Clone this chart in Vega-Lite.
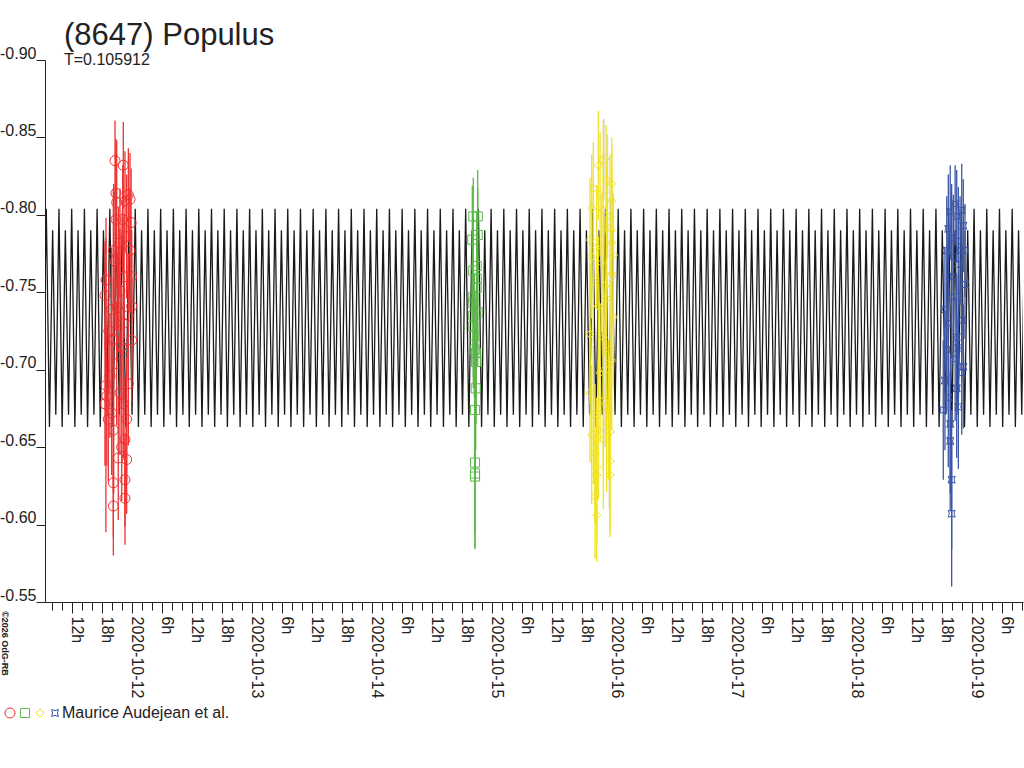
{
  "$schema": "https://vega.github.io/schema/vega-lite/v6.json",
  "width": 978,
  "height": 542,
  "autosize": "none",
  "padding": {"left": 45, "top": 60, "right": 1, "bottom": 166},
  "background": "white",
  "title": {
    "text": "(8647) Populus",
    "subtitle": "T=0.105912",
    "anchor": "start",
    "frame": "group",
    "dx": 19,
    "offset": -24,
    "font": "Liberation Sans",
    "fontSize": 31,
    "fontWeight": "normal",
    "color": "#222222",
    "subtitleFont": "Liberation Sans",
    "subtitleFontSize": 16,
    "subtitleColor": "#222222",
    "subtitlePadding": 0
  },
  "datasets": {
    "model": [
      {"t":-0.8178,"v":-0.804},{"t":-0.7913,"v":-0.663},{"t":-0.7648,"v":-0.790},{"t":-0.7384,"v":-0.671},
      {"t":-0.7119,"v":-0.804},{"t":-0.6854,"v":-0.663},{"t":-0.6589,"v":-0.790},{"t":-0.6325,"v":-0.671},
      {"t":-0.6060,"v":-0.804},{"t":-0.5795,"v":-0.663},{"t":-0.5530,"v":-0.790},{"t":-0.5265,"v":-0.671},
      {"t":-0.5001,"v":-0.804},{"t":-0.4736,"v":-0.663},{"t":-0.4471,"v":-0.790},{"t":-0.4206,"v":-0.671},
      {"t":-0.3941,"v":-0.804},{"t":-0.3677,"v":-0.663},{"t":-0.3412,"v":-0.790},{"t":-0.3147,"v":-0.671},
      {"t":-0.2882,"v":-0.804},{"t":-0.2618,"v":-0.663},{"t":-0.2353,"v":-0.790},{"t":-0.2088,"v":-0.671},
      {"t":-0.1823,"v":-0.804},{"t":-0.1558,"v":-0.663},{"t":-0.1294,"v":-0.790},{"t":-0.1029,"v":-0.671},
      {"t":-0.0764,"v":-0.804},{"t":-0.0499,"v":-0.663},{"t":-0.0235,"v":-0.790},{"t":0.0030,"v":-0.671},
      {"t":0.0295,"v":-0.804},{"t":0.0560,"v":-0.663},{"t":0.0825,"v":-0.790},{"t":0.1089,"v":-0.671},
      {"t":0.1354,"v":-0.804},{"t":0.1619,"v":-0.663},{"t":0.1884,"v":-0.790},{"t":0.2148,"v":-0.671},
      {"t":0.2413,"v":-0.804},{"t":0.2678,"v":-0.663},{"t":0.2943,"v":-0.790},{"t":0.3208,"v":-0.671},
      {"t":0.3472,"v":-0.804},{"t":0.3737,"v":-0.663},{"t":0.4002,"v":-0.790},{"t":0.4267,"v":-0.671},
      {"t":0.4531,"v":-0.804},{"t":0.4796,"v":-0.663},{"t":0.5061,"v":-0.790},{"t":0.5326,"v":-0.671},
      {"t":0.5591,"v":-0.804},{"t":0.5855,"v":-0.663},{"t":0.6120,"v":-0.790},{"t":0.6385,"v":-0.671},
      {"t":0.6650,"v":-0.804},{"t":0.6915,"v":-0.663},{"t":0.7179,"v":-0.790},{"t":0.7444,"v":-0.671},
      {"t":0.7709,"v":-0.804},{"t":0.7974,"v":-0.663},{"t":0.8238,"v":-0.790},{"t":0.8503,"v":-0.671},
      {"t":0.8768,"v":-0.804},{"t":0.9033,"v":-0.663},{"t":0.9297,"v":-0.790},{"t":0.9562,"v":-0.671},
      {"t":0.9827,"v":-0.804},{"t":1.0092,"v":-0.663},{"t":1.0357,"v":-0.790},{"t":1.0621,"v":-0.671},
      {"t":1.0886,"v":-0.804},{"t":1.1151,"v":-0.663},{"t":1.1416,"v":-0.790},{"t":1.1681,"v":-0.671},
      {"t":1.1945,"v":-0.804},{"t":1.2210,"v":-0.663},{"t":1.2475,"v":-0.790},{"t":1.2740,"v":-0.671},
      {"t":1.3004,"v":-0.804},{"t":1.3269,"v":-0.663},{"t":1.3534,"v":-0.790},{"t":1.3799,"v":-0.671},
      {"t":1.4064,"v":-0.804},{"t":1.4328,"v":-0.663},{"t":1.4593,"v":-0.790},{"t":1.4858,"v":-0.671},
      {"t":1.5123,"v":-0.804},{"t":1.5387,"v":-0.663},{"t":1.5652,"v":-0.790},{"t":1.5917,"v":-0.671},
      {"t":1.6182,"v":-0.804},{"t":1.6447,"v":-0.663},{"t":1.6711,"v":-0.790},{"t":1.6976,"v":-0.671},
      {"t":1.7241,"v":-0.804},{"t":1.7506,"v":-0.663},{"t":1.7770,"v":-0.790},{"t":1.8035,"v":-0.671},
      {"t":1.8300,"v":-0.804},{"t":1.8565,"v":-0.663},{"t":1.8830,"v":-0.790},{"t":1.9094,"v":-0.671},
      {"t":1.9359,"v":-0.804},{"t":1.9624,"v":-0.663},{"t":1.9889,"v":-0.790},{"t":2.0153,"v":-0.671},
      {"t":2.0418,"v":-0.804},{"t":2.0683,"v":-0.663},{"t":2.0948,"v":-0.790},{"t":2.1213,"v":-0.671},
      {"t":2.1477,"v":-0.804},{"t":2.1742,"v":-0.663},{"t":2.2007,"v":-0.790},{"t":2.2272,"v":-0.671},
      {"t":2.2537,"v":-0.804},{"t":2.2801,"v":-0.663},{"t":2.3066,"v":-0.790},{"t":2.3331,"v":-0.671},
      {"t":2.3596,"v":-0.804},{"t":2.3860,"v":-0.663},{"t":2.4125,"v":-0.790},{"t":2.4390,"v":-0.671},
      {"t":2.4655,"v":-0.804},{"t":2.4920,"v":-0.663},{"t":2.5184,"v":-0.790},{"t":2.5449,"v":-0.671},
      {"t":2.5714,"v":-0.804},{"t":2.5979,"v":-0.663},{"t":2.6243,"v":-0.790},{"t":2.6508,"v":-0.671},
      {"t":2.6773,"v":-0.804},{"t":2.7038,"v":-0.663},{"t":2.7303,"v":-0.790},{"t":2.7567,"v":-0.671},
      {"t":2.7832,"v":-0.804},{"t":2.8097,"v":-0.663},{"t":2.8362,"v":-0.790},{"t":2.8626,"v":-0.671},
      {"t":2.8891,"v":-0.804},{"t":2.9156,"v":-0.663},{"t":2.9421,"v":-0.790},{"t":2.9686,"v":-0.671},
      {"t":2.9950,"v":-0.804},{"t":3.0215,"v":-0.663},{"t":3.0480,"v":-0.790},{"t":3.0745,"v":-0.671},
      {"t":3.1009,"v":-0.804},{"t":3.1274,"v":-0.663},{"t":3.1539,"v":-0.790},{"t":3.1804,"v":-0.671},
      {"t":3.2069,"v":-0.804},{"t":3.2333,"v":-0.663},{"t":3.2598,"v":-0.790},{"t":3.2863,"v":-0.671},
      {"t":3.3128,"v":-0.804},{"t":3.3393,"v":-0.663},{"t":3.3657,"v":-0.790},{"t":3.3922,"v":-0.671},
      {"t":3.4187,"v":-0.804},{"t":3.4452,"v":-0.663},{"t":3.4716,"v":-0.790},{"t":3.4981,"v":-0.671},
      {"t":3.5246,"v":-0.804},{"t":3.5511,"v":-0.663},{"t":3.5776,"v":-0.790},{"t":3.6040,"v":-0.671},
      {"t":3.6305,"v":-0.804},{"t":3.6570,"v":-0.663},{"t":3.6835,"v":-0.790},{"t":3.7099,"v":-0.671},
      {"t":3.7364,"v":-0.804},{"t":3.7629,"v":-0.663},{"t":3.7894,"v":-0.790},{"t":3.8159,"v":-0.671},
      {"t":3.8423,"v":-0.804},{"t":3.8688,"v":-0.663},{"t":3.8953,"v":-0.790},{"t":3.9218,"v":-0.671},
      {"t":3.9482,"v":-0.804},{"t":3.9747,"v":-0.663},{"t":4.0012,"v":-0.790},{"t":4.0277,"v":-0.671},
      {"t":4.0542,"v":-0.804},{"t":4.0806,"v":-0.663},{"t":4.1071,"v":-0.790},{"t":4.1336,"v":-0.671},
      {"t":4.1601,"v":-0.804},{"t":4.1865,"v":-0.663},{"t":4.2130,"v":-0.790},{"t":4.2395,"v":-0.671},
      {"t":4.2660,"v":-0.804},{"t":4.2925,"v":-0.663},{"t":4.3189,"v":-0.790},{"t":4.3454,"v":-0.671},
      {"t":4.3719,"v":-0.804},{"t":4.3984,"v":-0.663},{"t":4.4248,"v":-0.790},{"t":4.4513,"v":-0.671},
      {"t":4.4778,"v":-0.804},{"t":4.5043,"v":-0.663},{"t":4.5308,"v":-0.790},{"t":4.5572,"v":-0.671},
      {"t":4.5837,"v":-0.804},{"t":4.6102,"v":-0.663},{"t":4.6367,"v":-0.790},{"t":4.6632,"v":-0.671},
      {"t":4.6896,"v":-0.804},{"t":4.7161,"v":-0.663},{"t":4.7426,"v":-0.790},{"t":4.7691,"v":-0.671},
      {"t":4.7955,"v":-0.804},{"t":4.8220,"v":-0.663},{"t":4.8485,"v":-0.790},{"t":4.8750,"v":-0.671},
      {"t":4.9015,"v":-0.804},{"t":4.9279,"v":-0.663},{"t":4.9544,"v":-0.790},{"t":4.9809,"v":-0.671},
      {"t":5.0074,"v":-0.804},{"t":5.0338,"v":-0.663},{"t":5.0603,"v":-0.790},{"t":5.0868,"v":-0.671},
      {"t":5.1133,"v":-0.804},{"t":5.1398,"v":-0.663},{"t":5.1662,"v":-0.790},{"t":5.1927,"v":-0.671},
      {"t":5.2192,"v":-0.804},{"t":5.2457,"v":-0.663},{"t":5.2721,"v":-0.790},{"t":5.2986,"v":-0.671},
      {"t":5.3251,"v":-0.804},{"t":5.3516,"v":-0.663},{"t":5.3781,"v":-0.790},{"t":5.4045,"v":-0.671},
      {"t":5.4310,"v":-0.804},{"t":5.4575,"v":-0.663},{"t":5.4840,"v":-0.790},{"t":5.5104,"v":-0.671},
      {"t":5.5369,"v":-0.804},{"t":5.5634,"v":-0.663},{"t":5.5899,"v":-0.790},{"t":5.6164,"v":-0.671},
      {"t":5.6428,"v":-0.804},{"t":5.6693,"v":-0.663},{"t":5.6958,"v":-0.790},{"t":5.7223,"v":-0.671},
      {"t":5.7487,"v":-0.804},{"t":5.7752,"v":-0.663},{"t":5.8017,"v":-0.790},{"t":5.8282,"v":-0.671},
      {"t":5.8547,"v":-0.804},{"t":5.8811,"v":-0.663},{"t":5.9076,"v":-0.790},{"t":5.9341,"v":-0.671},
      {"t":5.9606,"v":-0.804},{"t":5.9870,"v":-0.663},{"t":6.0135,"v":-0.790},{"t":6.0400,"v":-0.671},
      {"t":6.0665,"v":-0.804},{"t":6.0930,"v":-0.663},{"t":6.1194,"v":-0.790},{"t":6.1459,"v":-0.671},
      {"t":6.1724,"v":-0.804},{"t":6.1989,"v":-0.663},{"t":6.2254,"v":-0.790},{"t":6.2518,"v":-0.671},
      {"t":6.2783,"v":-0.804},{"t":6.3048,"v":-0.663},{"t":6.3313,"v":-0.790},{"t":6.3577,"v":-0.671},
      {"t":6.3842,"v":-0.804},{"t":6.4107,"v":-0.663},{"t":6.4372,"v":-0.790},{"t":6.4637,"v":-0.671},
      {"t":6.4901,"v":-0.804},{"t":6.5166,"v":-0.663},{"t":6.5431,"v":-0.790},{"t":6.5696,"v":-0.671},
      {"t":6.5960,"v":-0.804},{"t":6.6225,"v":-0.663},{"t":6.6490,"v":-0.790},{"t":6.6755,"v":-0.671},
      {"t":6.7020,"v":-0.804},{"t":6.7284,"v":-0.663},{"t":6.7549,"v":-0.790},{"t":6.7814,"v":-0.671},
      {"t":6.8079,"v":-0.804},{"t":6.8343,"v":-0.663},{"t":6.8608,"v":-0.790},{"t":6.8873,"v":-0.671},
      {"t":6.9138,"v":-0.804},{"t":6.9403,"v":-0.663},{"t":6.9667,"v":-0.790},{"t":6.9932,"v":-0.671},
      {"t":7.0197,"v":-0.804},{"t":7.0462,"v":-0.663},{"t":7.0726,"v":-0.790},{"t":7.0991,"v":-0.671},
      {"t":7.1256,"v":-0.804},{"t":7.1521,"v":-0.663},{"t":7.1786,"v":-0.790},{"t":7.2050,"v":-0.671},
      {"t":7.2315,"v":-0.804},{"t":7.2580,"v":-0.663},{"t":7.2845,"v":-0.790},{"t":7.3109,"v":-0.671},
      {"t":7.3374,"v":-0.804},{"t":7.3639,"v":-0.663},{"t":7.3904,"v":-0.790},{"t":7.4169,"v":-0.671},
      {"t":7.4433,"v":-0.804}
    ],
    "gray": [
      {"t":3.935,"v":-0.836,"e":0.026},
      {"t":3.965,"v":-0.812,"e":0.040},
      {"t":3.992,"v":-0.760,"e":0.050},
      {"t":3.945,"v":-0.700,"e":0.050},
      {"t":3.980,"v":-0.660,"e":0.050}
    ],
    "obs": [
      {"t":-0.139,"v":-0.835,"e":0.026,"s":"A"},{"t":-0.070,"v":-0.832,"e":0.028,"s":"A"},
      {"t":-0.131,"v":-0.814,"e":0.035,"s":"A"},{"t":-0.028,"v":-0.813,"e":0.030,"s":"A"},
      {"t":-0.125,"v":-0.808,"e":0.040,"s":"A"},{"t":-0.056,"v":-0.809,"e":0.032,"s":"A"},
      {"t":-0.014,"v":-0.810,"e":0.030,"s":"A"},{"t":-0.131,"v":-0.797,"e":0.045,"s":"A"},
      {"t":-0.075,"v":-0.797,"e":0.035,"s":"A"},{"t":-0.014,"v":-0.777,"e":0.040,"s":"A"},
      {"t":-0.139,"v":-0.770,"e":0.045,"s":"A"},{"t":-0.214,"v":-0.758,"e":0.040,"s":"A"},
      {"t":-0.223,"v":-0.748,"e":0.035,"s":"A"},{"t":0.000,"v":-0.760,"e":0.030,"s":"A"},
      {"t":-0.098,"v":-0.751,"e":0.040,"s":"A"},{"t":0.000,"v":-0.741,"e":0.035,"s":"A"},
      {"t":-0.167,"v":-0.739,"e":0.040,"s":"A"},{"t":-0.070,"v":-0.730,"e":0.045,"s":"A"},
      {"t":-0.153,"v":-0.719,"e":0.040,"s":"A"},{"t":0.000,"v":-0.719,"e":0.040,"s":"A"},
      {"t":-0.070,"v":-0.713,"e":0.035,"s":"A"},{"t":-0.181,"v":-0.696,"e":0.040,"s":"A"},
      {"t":-0.208,"v":-0.683,"e":0.045,"s":"A"},{"t":-0.223,"v":-0.678,"e":0.040,"s":"A"},
      {"t":-0.167,"v":-0.672,"e":0.040,"s":"A"},{"t":-0.070,"v":-0.678,"e":0.035,"s":"A"},
      {"t":-0.153,"v":-0.661,"e":0.040,"s":"A"},{"t":-0.056,"v":-0.655,"e":0.040,"s":"A"},
      {"t":-0.112,"v":-0.643,"e":0.040,"s":"A"},{"t":-0.042,"v":-0.642,"e":0.035,"s":"A"},
      {"t":-0.153,"v":-0.627,"e":0.035,"s":"A"},{"t":-0.056,"v":-0.629,"e":0.030,"s":"A"},
      {"t":-0.153,"v":-0.612,"e":0.032,"s":"A"},{"t":-0.056,"v":-0.617,"e":0.030,"s":"A"},
      {"t":-0.098,"v":-0.782,"e":0.035,"s":"A"},{"t":-0.042,"v":-0.786,"e":0.040,"s":"A"},
      {"t":-0.153,"v":-0.777,"e":0.040,"s":"A"},{"t":-0.028,"v":-0.735,"e":0.040,"s":"A"},
      {"t":-0.125,"v":-0.704,"e":0.040,"s":"A"},{"t":-0.028,"v":-0.691,"e":0.040,"s":"A"},
      {"t":-0.098,"v":-0.685,"e":0.040,"s":"A"},{"t":-0.195,"v":-0.668,"e":0.040,"s":"A"},
      {"t":-0.042,"v":-0.668,"e":0.040,"s":"A"},{"t":-0.083,"v":-0.650,"e":0.035,"s":"A"},
      {"t":-0.190,"v":-0.725,"e":0.040,"s":"A"},{"t":-0.110,"v":-0.765,"e":0.040,"s":"A"},
      {"t":-0.085,"v":-0.715,"e":0.040,"s":"A"},{"t":-0.005,"v":-0.795,"e":0.035,"s":"A"},
      {"t":-0.120,"v":-0.740,"e":0.035,"s":"A"},{"t":-0.063,"v":-0.760,"e":0.040,"s":"A"},
      {"t":-0.215,"v":-0.690,"e":0.095,"s":"A"},{"t":-0.150,"v":-0.720,"e":0.100,"s":"A"},
      {"t":2.8467,"v":-0.799,"e":0.025,"s":"B"},{"t":2.8833,"v":-0.799,"e":0.030,"s":"B"},
      {"t":2.8383,"v":-0.784,"e":0.035,"s":"B"},{"t":2.8833,"v":-0.787,"e":0.030,"s":"B"},
      {"t":2.8750,"v":-0.767,"e":0.035,"s":"B"},{"t":2.8467,"v":-0.764,"e":0.035,"s":"B"},
      {"t":2.8750,"v":-0.759,"e":0.035,"s":"B"},{"t":2.8750,"v":-0.753,"e":0.035,"s":"B"},
      {"t":2.8467,"v":-0.747,"e":0.035,"s":"B"},{"t":2.8467,"v":-0.743,"e":0.040,"s":"B"},
      {"t":2.8467,"v":-0.735,"e":0.040,"s":"B"},{"t":2.8833,"v":-0.737,"e":0.035,"s":"B"},
      {"t":2.8467,"v":-0.728,"e":0.040,"s":"B"},{"t":2.8550,"v":-0.722,"e":0.040,"s":"B"},
      {"t":2.8580,"v":-0.713,"e":0.040,"s":"B"},{"t":2.8690,"v":-0.711,"e":0.040,"s":"B"},
      {"t":2.8690,"v":-0.705,"e":0.040,"s":"B"},{"t":2.8667,"v":-0.688,"e":0.040,"s":"B"},
      {"t":2.8608,"v":-0.674,"e":0.045,"s":"B"},{"t":2.8608,"v":-0.640,"e":0.045,"s":"B"},
      {"t":2.8608,"v":-0.633,"e":0.048,"s":"B"},{"t":2.8608,"v":-0.631,"e":0.047,"s":"B"},
      {"t":3.930,"v":-0.835,"e":0.026,"s":"C"},{"t":3.888,"v":-0.832,"e":0.035,"s":"C"},
      {"t":3.953,"v":-0.823,"e":0.035,"s":"C"},{"t":4.000,"v":-0.820,"e":0.030,"s":"C"},
      {"t":3.847,"v":-0.817,"e":0.030,"s":"C"},{"t":3.903,"v":-0.813,"e":0.040,"s":"C"},
      {"t":4.000,"v":-0.809,"e":0.035,"s":"C"},{"t":3.833,"v":-0.804,"e":0.035,"s":"C"},
      {"t":3.930,"v":-0.803,"e":0.040,"s":"C"},{"t":3.986,"v":-0.799,"e":0.040,"s":"C"},
      {"t":3.958,"v":-0.792,"e":0.040,"s":"C"},{"t":4.000,"v":-0.790,"e":0.040,"s":"C"},
      {"t":3.819,"v":-0.784,"e":0.040,"s":"C"},{"t":3.875,"v":-0.779,"e":0.040,"s":"C"},
      {"t":4.000,"v":-0.782,"e":0.040,"s":"C"},{"t":4.014,"v":-0.774,"e":0.040,"s":"C"},
      {"t":3.833,"v":-0.773,"e":0.040,"s":"C"},{"t":3.917,"v":-0.769,"e":0.045,"s":"C"},
      {"t":4.000,"v":-0.762,"e":0.040,"s":"C"},{"t":3.847,"v":-0.757,"e":0.040,"s":"C"},
      {"t":3.944,"v":-0.754,"e":0.045,"s":"C"},{"t":3.958,"v":-0.746,"e":0.045,"s":"C"},
      {"t":3.888,"v":-0.741,"e":0.045,"s":"C"},{"t":4.014,"v":-0.734,"e":0.045,"s":"C"},
      {"t":3.819,"v":-0.723,"e":0.045,"s":"C"},{"t":3.930,"v":-0.721,"e":0.045,"s":"C"},
      {"t":3.986,"v":-0.713,"e":0.045,"s":"C"},{"t":4.000,"v":-0.706,"e":0.045,"s":"C"},
      {"t":3.903,"v":-0.698,"e":0.045,"s":"C"},{"t":3.819,"v":-0.685,"e":0.045,"s":"C"},
      {"t":3.930,"v":-0.680,"e":0.045,"s":"C"},{"t":3.972,"v":-0.674,"e":0.045,"s":"C"},
      {"t":3.847,"v":-0.671,"e":0.045,"s":"C"},{"t":3.958,"v":-0.666,"e":0.045,"s":"C"},
      {"t":3.888,"v":-0.661,"e":0.045,"s":"C"},{"t":3.986,"v":-0.660,"e":0.045,"s":"C"},
      {"t":3.930,"v":-0.655,"e":0.045,"s":"C"},{"t":3.833,"v":-0.658,"e":0.045,"s":"C"},
      {"t":3.861,"v":-0.646,"e":0.045,"s":"C"},{"t":3.986,"v":-0.641,"e":0.045,"s":"C"},
      {"t":3.875,"v":-0.637,"e":0.045,"s":"C"},{"t":3.986,"v":-0.632,"e":0.040,"s":"C"},
      {"t":3.875,"v":-0.632,"e":0.045,"s":"C"},{"t":3.861,"v":-0.618,"e":0.040,"s":"C"},
      {"t":3.875,"v":-0.606,"e":0.030,"s":"C"},
      {"t":6.862,"v":-0.807,"e":0.025,"s":"D"},{"t":6.821,"v":-0.802,"e":0.030,"s":"D"},
      {"t":6.917,"v":-0.803,"e":0.030,"s":"D"},{"t":6.875,"v":-0.799,"e":0.030,"s":"D"},
      {"t":6.805,"v":-0.791,"e":0.035,"s":"D"},{"t":6.930,"v":-0.793,"e":0.030,"s":"D"},
      {"t":6.833,"v":-0.785,"e":0.035,"s":"D"},{"t":6.889,"v":-0.783,"e":0.035,"s":"D"},
      {"t":6.903,"v":-0.777,"e":0.035,"s":"D"},{"t":6.847,"v":-0.773,"e":0.040,"s":"D"},
      {"t":6.944,"v":-0.777,"e":0.030,"s":"D"},{"t":6.889,"v":-0.768,"e":0.040,"s":"D"},
      {"t":6.944,"v":-0.755,"e":0.035,"s":"D"},{"t":6.833,"v":-0.747,"e":0.040,"s":"D"},
      {"t":6.777,"v":-0.739,"e":0.040,"s":"D"},{"t":6.917,"v":-0.732,"e":0.040,"s":"D"},
      {"t":6.805,"v":-0.730,"e":0.040,"s":"D"},{"t":6.875,"v":-0.721,"e":0.040,"s":"D"},
      {"t":6.889,"v":-0.714,"e":0.040,"s":"D"},{"t":6.862,"v":-0.707,"e":0.040,"s":"D"},
      {"t":6.930,"v":-0.702,"e":0.040,"s":"D"},{"t":6.917,"v":-0.698,"e":0.040,"s":"D"},
      {"t":6.777,"v":-0.693,"e":0.045,"s":"D"},{"t":6.875,"v":-0.688,"e":0.045,"s":"D"},
      {"t":6.805,"v":-0.682,"e":0.045,"s":"D"},{"t":6.889,"v":-0.676,"e":0.040,"s":"D"},
      {"t":6.763,"v":-0.674,"e":0.045,"s":"D"},{"t":6.821,"v":-0.665,"e":0.045,"s":"D"},
      {"t":6.821,"v":-0.654,"e":0.045,"s":"D"},{"t":6.833,"v":-0.629,"e":0.045,"s":"D"},
      {"t":6.833,"v":-0.607,"e":0.047,"s":"D"},{"t":6.792,"v":-0.777,"e":0.035,"s":"D"},
      {"t":6.847,"v":-0.760,"e":0.040,"s":"D"},{"t":6.792,"v":-0.713,"e":0.040,"s":"D"}
    ]
  },
  "encoding": {
    "x": {
      "field": "t",
      "type": "quantitative",
      "scale": {"domain": [-0.7225, 7.4275], "nice": false, "zero": false},
      "axis": {
        "title": null,
        "grid": false,
        "values": [-0.6667,-0.5833,-0.5,-0.4167,-0.3333,-0.25,-0.1667,-0.0833,
          0,0.0833,0.1667,0.25,0.3333,0.4167,0.5,0.5833,0.6667,0.75,0.8333,0.9167,
          1,1.0833,1.1667,1.25,1.3333,1.4167,1.5,1.5833,1.6667,1.75,1.8333,1.9167,
          2,2.0833,2.1667,2.25,2.3333,2.4167,2.5,2.5833,2.6667,2.75,2.8333,2.9167,
          3,3.0833,3.1667,3.25,3.3333,3.4167,3.5,3.5833,3.6667,3.75,3.8333,3.9167,
          4,4.0833,4.1667,4.25,4.3333,4.4167,4.5,4.5833,4.6667,4.75,4.8333,4.9167,
          5,5.0833,5.1667,5.25,5.3333,5.4167,5.5,5.5833,5.6667,5.75,5.8333,5.9167,
          6,6.0833,6.1667,6.25,6.3333,6.4167,6.5,6.5833,6.6667,6.75,6.8333,6.9167,
          7,7.0833,7.1667,7.25,7.3333,7.4167],
        "labelExpr": "abs(datum.value * 4 - round(datum.value * 4)) > 0.001 ? '' : (abs(datum.value - round(datum.value)) < 0.001 ? utcFormat(utc(2020, 9, 12 + round(datum.value)), '%Y-%m-%d') : round((datum.value - floor(datum.value)) * 24) + 'h')",
        "labelAngle": 90,
        "labelAlign": "left",
        "labelBaseline": "alphabetic",
        "labelFont": "Liberation Sans",
        "labelFontSize": 16,
        "labelColor": "#222222",
        "labelPadding": 3,
        "labelOverlap": false,
        "labelFlush": false,
        "labelBound": false,
        "tickSize": {"condition": {"test": "abs(datum.value * 4 - round(datum.value * 4)) < 0.001", "value": 11}, "value": 8},
        "tickColor": "#222222",
        "domainColor": "#222222"
      }
    },
    "y": {
      "field": "v",
      "type": "quantitative",
      "scale": {"domain": [-0.9, -0.55], "reverse": true, "nice": false, "zero": false},
      "axis": {
        "grid": false,
        "values": [-0.9, -0.85, -0.8, -0.75, -0.7, -0.65, -0.6, -0.55],
        "labelExpr": "'-' + format(abs(datum.value), '.2f')",
        "labelFont": "Liberation Sans",
        "labelFontSize": 16,
        "labelColor": "#222222",
        "labelAlign": "right",
        "labelBaseline": "alphabetic",
        "labelPadding": 0,
        "labelOffset": -2,
        "labelFlush": false,
        "labelBound": false,
        "tickSize": 9,
        "tickColor": "#222222",
        "domainColor": "#222222",
        "title": "©2026 OdG-RB",
        "titleFont": "Liberation Sans",
        "titleFontSize": 9,
        "titleFontWeight": "bold",
        "titleColor": "#222222",
        "titleAngle": 90,
        "titleAlign": "center",
        "titleBaseline": "middle",
        "titleX": -41,
        "titleY": 583
      }
    }
  },
  "layer": [
    {
      "data": {"name": "model"},
      "mark": {"type": "line", "color": "#1a1a1a", "strokeWidth": 1.3, "clip": true}
    },
    {
      "data": {"name": "gray"},
      "mark": {"type": "errorbar", "color": "#d4d4d4", "thickness": 1.5},
      "encoding": {"yError": {"field": "e"}}
    },
    {
      "data": {"name": "gray"},
      "mark": {"type": "point", "shape": "diamond", "filled": false, "color": "#d4d4d4", "size": 110, "strokeWidth": 1, "opacity": 1}
    },
    {
      "data": {"name": "obs"},
      "mark": {"type": "errorbar", "thickness": 1.3},
      "encoding": {
        "yError": {"field": "e"},
        "color": {"field": "s", "type": "nominal"}
      }
    },
    {
      "data": {"name": "obs"},
      "mark": {"type": "point", "filled": false, "strokeWidth": 1, "opacity": 1},
      "encoding": {
        "color": {
          "field": "s",
          "type": "nominal",
          "scale": {"domain": ["A", "B", "C", "D"], "range": ["#ee3232", "#5cb84a", "#f0e21e", "#3b56a6"]},
          "legend": {
            "title": null, "orient": "none", "legendX": -43, "legendY": 645, "direction": "horizontal",
            "labelExpr": "datum.label == 'D' ? 'Maurice Audejean et al.' : ''",
            "labelFont": "Liberation Sans", "labelFontSize": 16, "labelColor": "#222222", "labelLimit": 400,
            "labelOffset": -1, "columnPadding": 0, "symbolSize": 110, "symbolStrokeWidth": 1, "padding": 0
          }
        },
        "shape": {
          "field": "s",
          "type": "nominal",
          "scale": {"domain": ["A", "B", "C", "D"], "range": ["circle", "square", "diamond", "M-1,-1Q0,-0.35,1,-1Q0.35,0,1,1Q0,0.35,-1,1Q-0.35,0,-1,-1Z"]}
        },
        "size": {
          "field": "s",
          "type": "nominal",
          "scale": {"domain": ["A", "B", "C", "D"], "range": [100, 49, 110, 90]},
          "legend": null
        }
      }
    }
  ],
  "config": {
    "view": {"stroke": null},
    "axis": {"domainWidth": 1, "tickWidth": 1}
  }
}
